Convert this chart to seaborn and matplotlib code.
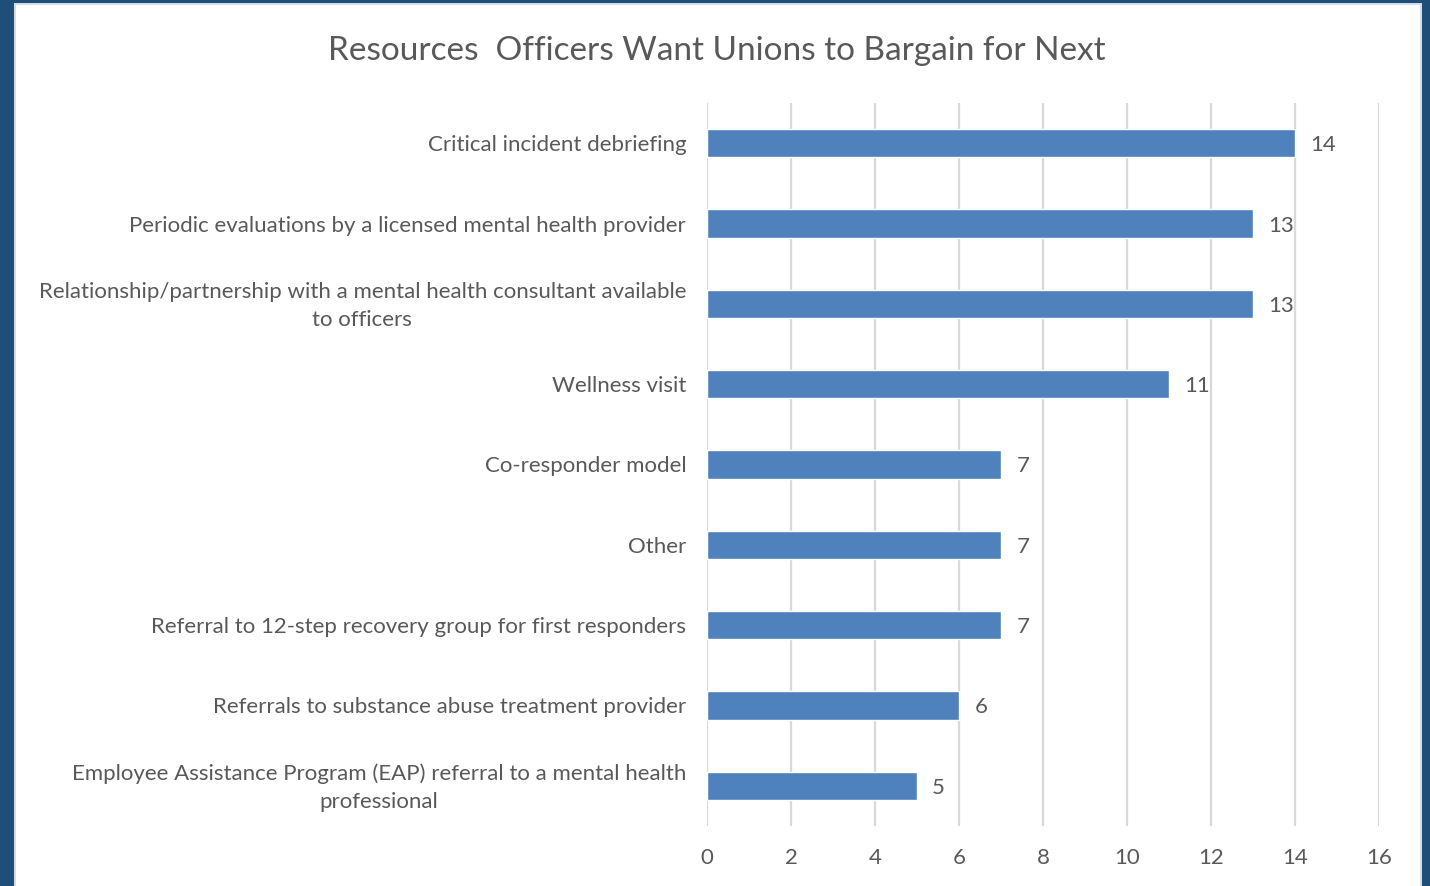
import matplotlib
matplotlib.use("Agg")
import matplotlib.pyplot as plt
import matplotlib.transforms as mtransforms
import seaborn as sns
import pandas as pd
from matplotlib.patches import Rectangle

categories = [
    "Critical incident debriefing",
    "Periodic evaluations by a licensed mental health provider",
    "Relationship/partnership with a mental health consultant available\nto officers",
    "Wellness visit",
    "Co-responder model",
    "Other",
    "Referral to 12-step recovery group for first responders",
    "Referrals to substance abuse treatment provider",
    "Employee Assistance Program (EAP) referral to a mental health\nprofessional",
]
counts = [14, 13, 13, 11, 7, 7, 7, 6, 5]
x_ticks = [0, 2, 4, 6, 8, 10, 12, 14, 16]

TITLE = "Resources  Officers Want Unions to Bargain for Next"
BAR_COLOR = "#4F81BD"
TEXT_COLOR = "#595959"
GRID_COLOR = "#D9D9D9"
FRAME_COLOR = "#1F4E79"

sns.set_theme(style="white")
plt.rcParams["font.family"] = ["Lato", "DejaVu Sans"]

df = pd.DataFrame({"category": categories, "count": counts})

W, H = 1430, 886
fig = plt.figure(figsize=(W / 100, H / 100), dpi=100)
fig.patch.set_facecolor(FRAME_COLOR)

# White panel inside the dark frame
fig.patches.append(Rectangle((14 / W, 0), (1422 - 14) / W, 1 - 3 / H,
                             transform=fig.transFigure, facecolor="#D6DCE4",
                             edgecolor="none", zorder=-10))
fig.patches.append(Rectangle((16 / W, 0), (1420 - 16) / W, 1 - 5 / H,
                             transform=fig.transFigure, facecolor="white",
                             edgecolor="none", zorder=-9))

ax = fig.add_axes([707 / W, 1 - 826 / H, (1379 - 707) / W, (826 - 103) / H])
ax.set_facecolor("none")
ax.set_zorder(5)

sns.barplot(data=df, y="category", x="count", color=BAR_COLOR, width=0.35,
            saturation=1, ax=ax, zorder=3)

ax.set_xlim(0, 16)
ax.set_ylim(len(categories) - 0.5, -0.5)
ax.set_xticks(x_ticks)
ax.set_xticklabels([str(t) for t in x_ticks])
ax.grid(axis="x", color=GRID_COLOR, linewidth=1.6, zorder=0)
ax.grid(axis="y", visible=False)
for s in ax.spines.values():
    s.set_visible(False)
ax.set_xlabel("")
ax.set_ylabel("")
ax.tick_params(axis="both", length=0, colors=TEXT_COLOR, labelsize=16)
ax.tick_params(axis="y", pad=15)
ax.tick_params(axis="x", pad=16)

# Two-line category labels: centred lines, slightly looser spacing, nudged up
lift = mtransforms.ScaledTranslation(0, 4 / 100, fig.dpi_scale_trans)
for lbl in ax.get_yticklabels():
    lbl.set_multialignment("center")
    lbl.set_linespacing(1.5)
    if "\n" in lbl.get_text():
        lbl.set_transform(lbl.get_transform() + lift)

value_labels = ax.bar_label(ax.containers[0], labels=[str(v) for v in counts],
                            padding=11, color=TEXT_COLOR, fontsize=16)
for t in value_labels:
    t.set_va("center_baseline")

fig.text(717 / W, 1 - 51 / H, TITLE, ha="center", va="center",
         fontsize=24, color=TEXT_COLOR)

fig.savefig("out.png", dpi=100, facecolor=fig.get_facecolor())
